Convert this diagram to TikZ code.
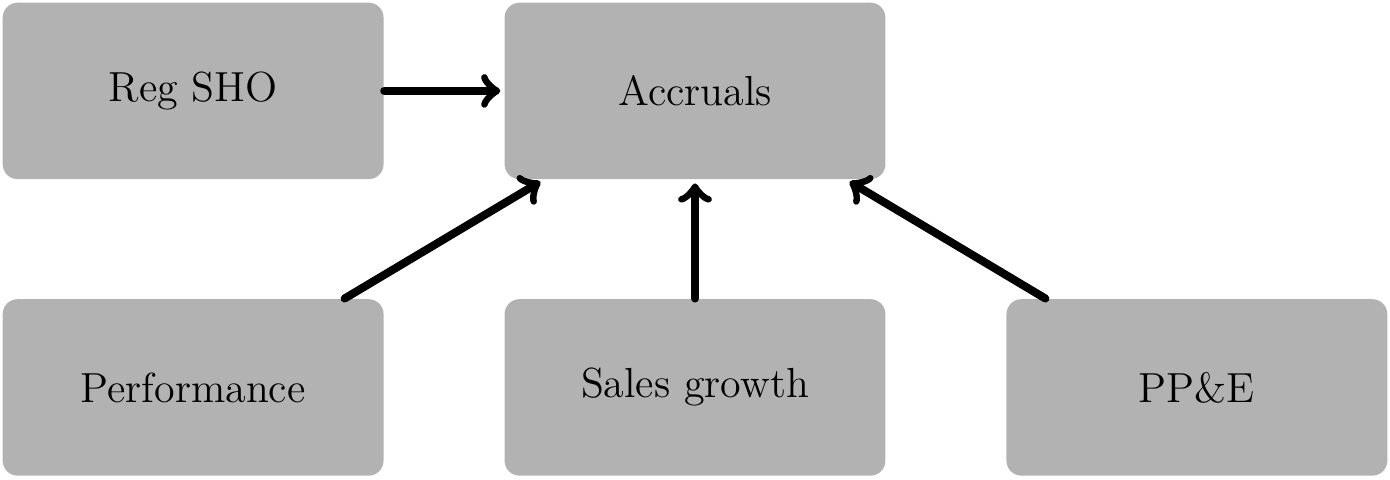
\documentclass[tikz,border=0pt]{standalone}
\usepackage{tikz}
\usetikzlibrary{arrows, positioning}

\begin{document}
\begin{tikzpicture}[
    node distance=1.19cm and 1.2cm,
    box/.style={rectangle, rounded corners=0.15cm, fill=black!30,
                minimum width=3.82cm, minimum height=1.77cm,
                inner sep=0pt, text centered, font=\large},
    arrow/.style={->, line width=2.3pt, line cap=round, shorten >=1pt}
]

\node[box] (regsho) {Reg SHO};
\node[box, right=of regsho] (accruals) {Accruals};

\node[box, below=of regsho]   (perf)  {Performance};
\node[box, right=of perf]     (sales) {Sales growth};
\node[box, right=of sales]    (ppe)   {PP\&E};

\useasboundingbox ([shift={(-0.02,0.02)}]regsho.north west)
    rectangle ([shift={(0.02,-0.03)}]ppe.south east);

\draw[arrow] (regsho) -- (accruals);
\draw[arrow] ([xshift=1.52cm]perf.north) -- ([xshift=-1.52cm]accruals.south);
\draw[arrow] (sales) -- (accruals);
\draw[arrow] ([xshift=-1.52cm]ppe.north) -- ([xshift=1.52cm]accruals.south);

\end{tikzpicture}
\end{document}
